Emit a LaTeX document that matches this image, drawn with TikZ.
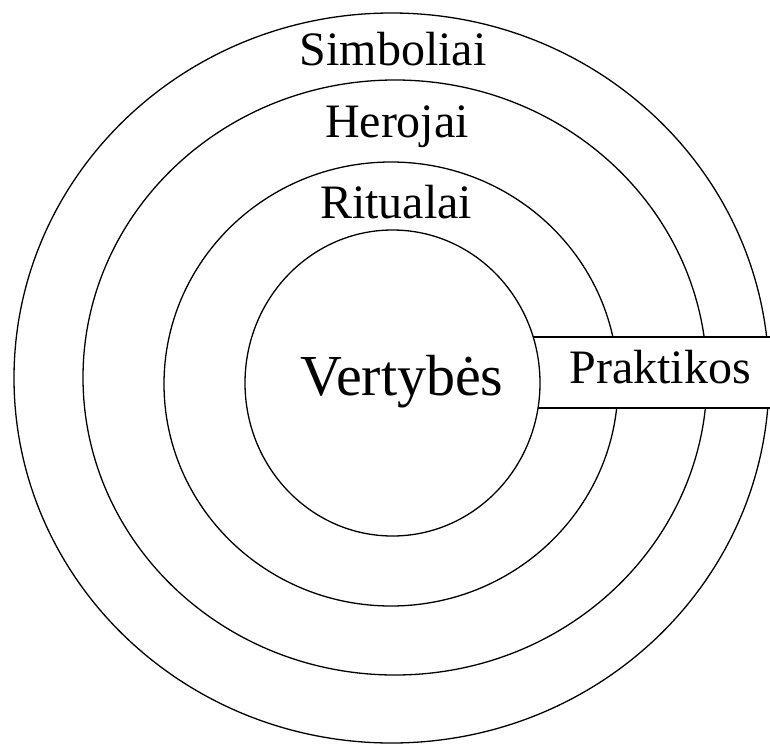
\documentclass[tikz,border=0pt]{standalone}
\usepackage{fontspec}
\setmainfont{Liberation Serif}

\begin{document}
\begin{tikzpicture}[x=1pt, y=-1pt, line width=1.3pt,
  layer/.style={font=\fontsize{48}{52}\selectfont, anchor=base}]
  \useasboundingbox (0,0) rectangle (770,744);

  % rings
  \foreach \cx/\cy/\rx/\ry in {391.5/378/377.5/365, 395/377.5/312/297.5, 391/384/227/222} {
    \draw (\cx,\cy) ellipse [x radius=\rx pt, y radius=\ry pt];
  }

  % band
  \fill[white] (533,337) rectangle (772,408);
  \draw (533,337) -- (770,337);
  \draw (538,408) -- (770,408);

  % core
  \draw (392.5,383) ellipse [x radius=147.5pt, y radius=153pt];

  % labels
  \node[layer] (simboliai) at (393,65) {Simboliai};
  \node[layer] (herojai) at (397,137) {Herojai};
  \node[layer] (ritualai) at (396,218) {Ritualai};
  \node[layer, font=\fontsize{58}{62}\selectfont] (vertybes) at (402,395) {Vertybės};
  \node[layer] (praktikos) at (660,383) {Praktikos};
\end{tikzpicture}
\end{document}
